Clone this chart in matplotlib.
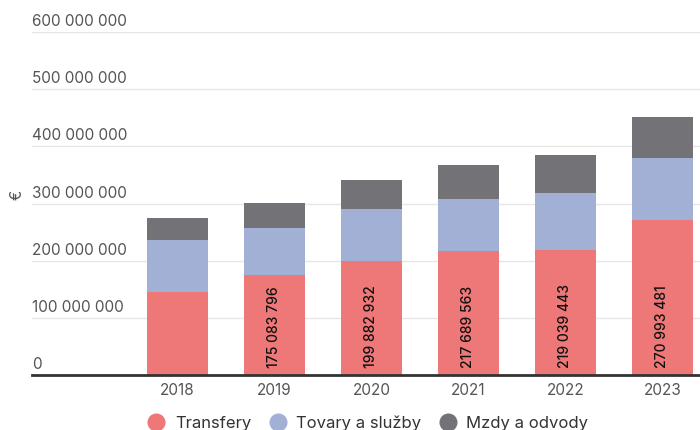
import matplotlib
matplotlib.use('Agg')
import matplotlib.pyplot as plt
from matplotlib.lines import Line2D
import numpy as np

plt.rcParams['font.family'] = ['Inter', 'DejaVu Sans']

# 年度支出结构（€）
years = ['2018', '2019', '2020', '2021', '2022', '2023']
transfery = [144600000, 175083796, 199882932, 217689563, 219039443, 270993481]
tovary = [91400000, 81400000, 89800000, 90000000, 99000000, 109000000]
mzdy = [38000000, 44500000, 51300000, 59300000, 66000000, 71000000]
series_names = ['Transfery', 'Tovary a služby', 'Mzdy a odvody']
colors = ['#ee7777', '#a3b0d6', '#737277']
yticks = [0, 100000000, 200000000, 300000000, 400000000, 500000000, 600000000]


def fmt_num(v):
    return f'{int(round(v)):,}'.replace(',', ' ')


fig = plt.figure(figsize=(7, 4.3), dpi=100)
ax = fig.add_axes([32 / 700, 1 - 375 / 430, 1 - 32 / 700, (375 - 32) / 430])

x = np.arange(len(years))
w = 0.63
t = np.array(transfery)
s = np.array(tovary)
m = np.array(mzdy)
ax.bar(x, t, w, color=colors[0], zorder=2)
ax.bar(x, s, w, bottom=t, color=colors[1], zorder=2)
ax.bar(x, m, w, bottom=t + s, color=colors[2], zorder=2)

# 数值标签：红色柱内竖排，高度不够时不显示
for xi, v in zip(x, t):
    if v > 160000000:
        ax.text(xi, 12000000, fmt_num(v), rotation=90, ha='center', va='bottom',
                fontsize=10, fontweight='medium', color='#111111', zorder=3)

ax.set_xlim(-1.5, (700 - 177.5) / 97)
ax.set_ylim(0, 600000000)
for yt in yticks:
    if yt > 0:
        ax.axhline(yt, color='#e6e6e6', lw=1, zorder=1)
    ax.text(0, yt + 5000000, fmt_num(yt), transform=ax.get_yaxis_transform(),
            ha='left', va='bottom', fontsize=11, color='#555555')
ax.axhline(0, color='#333333', lw=2, zorder=3, clip_on=False)

ax.set_yticks([])
ax.set_xticks(x)
ax.set_xticklabels(years, fontsize=11, color='#555555')
ax.tick_params(axis='x', length=0, pad=6)
for sp in ax.spines.values():
    sp.set_visible(False)

fig.text(17 / 700, 1 - 195 / 430, '€', rotation=90, ha='center', va='center',
         fontsize=11, color='#555555')

handles = [Line2D([], [], marker='o', ls='', markersize=12, color=c) for c in colors]
fig.legend(handles, series_names, loc='center', bbox_to_anchor=(364 / 700, 1 - 423 / 430),
           ncol=3, frameon=False, fontsize=12, handletextpad=0.1, columnspacing=0.6,
           labelcolor='#333333')

fig.savefig('out.png', dpi=100)
